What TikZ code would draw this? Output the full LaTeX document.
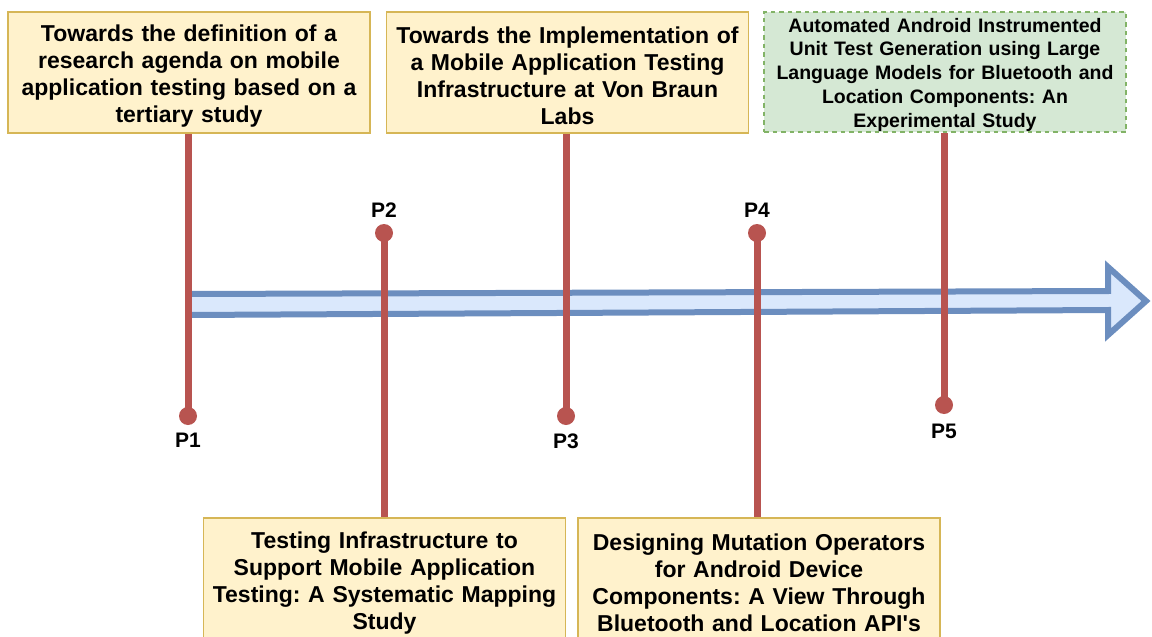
\documentclass[tikz,border=0pt]{standalone}
\usepackage{fontspec}
\setmainfont{Liberation Sans}
\frenchspacing
\definecolor{paperfill}{HTML}{FFF2CC}
\definecolor{paperdraw}{HTML}{D6B656}
\definecolor{draftfill}{HTML}{D5E8D4}
\definecolor{draftdraw}{HTML}{82B366}
\definecolor{stemred}{HTML}{B85450}
\definecolor{timefill}{HTML}{DAE8FC}
\definecolor{timedraw}{HTML}{6C8EBF}
\begin{document}
\begin{tikzpicture}[x=1pt,y=-1pt,
  boxbase/.style={line width=1.5pt, minimum width=362pt, inner sep=0pt,
    text width=356pt, align=center},
  paper/.style={boxbase, draw=paperdraw, fill=paperfill,
    minimum height=121pt,
    execute at begin node={\rule{0pt}{23pt}},
    font=\bfseries\fontsize{23}{27}\selectfont},
  lowpaper/.style={boxbase, draw=paperdraw, fill=paperfill,
    minimum height=126pt,
    execute at begin node={\rule{0pt}{21pt}},
    font=\bfseries\fontsize{23}{27}\selectfont},
  draft/.style={boxbase, draw=draftdraw, fill=draftfill,
    dash pattern=on 4.5pt off 4pt,
    minimum height=120pt,
    execute at begin node={\rule{0pt}{19.5pt}},
    font=\bfseries\fontsize{19.5}{23.8}\selectfont},
  stem/.style={draw=stemred, line width=7pt},
  pin/.style={circle, fill=stemred, minimum size=18pt, inner sep=0pt},
  plabel/.style={font=\bfseries\fontsize{21}{24}\selectfont, inner sep=0pt},
  timeline/.style={draw=timedraw, fill=timefill, line width=6pt, line join=miter}]
\useasboundingbox (0,0) rectangle (1152,637);
\clip (0,0) rectangle (1152,637);

% time axis
\draw[timeline] (188,294) -- (1108,291) -- (1108,267) -- (1146,301)
  -- (1108,335) -- (1108,310) -- (188,315) -- cycle;

% publications
\node[paper] (b1) at (189,72.5) {Towards the definition of a\\research agenda on mobile\\application testing based on a\\tertiary study};
\node[paper] (b3) at (567.5,72.5) {Towards the Implementation of\\a Mobile Application Testing\\Infrastructure at Von Braun\\Labs};
\node[draft] (b5) at (945,72) {Automated Android Instrumented\\Unit Test Generation using Large\\Language Models for Bluetooth and\\Location Components: An\\Experimental Study};
\node[lowpaper] (b2) at (384.5,581) {Testing Infrastructure to\\Support Mobile Application\\Testing: A Systematic Mapping\\Study};
\node[lowpaper] (b4) at (759,581) {Designing Mutation Operators\\for Android Device\\Components: A View Through\\Bluetooth and Location API\textquotesingle s};

% pins on the axis
\node[pin] (d1) at (188,416) {};
\node[pin] (d2) at (384,233) {};
\node[pin] (d3) at (566,416) {};
\node[pin] (d4) at (757,233) {};
\node[pin] (d5) at (944,405) {};

\draw[stem] (b1.south -| d1) -- (d1.center);
\draw[stem] (b3.south -| d3) -- (d3.center);
\draw[stem] (b5.south -| d5) -- (d5.center);
\draw[stem] (d2.center) -- (b2.north -| d2);
\draw[stem] (d4.center) -- (b4.north -| d4);

\node[plabel] (l1) at (188,440) {P1};
\node[plabel] (l2) at (384,210) {P2};
\node[plabel] (l3) at (566,441) {P3};
\node[plabel] (l4) at (757,210) {P4};
\node[plabel] (l5) at (944,431) {P5};
\end{tikzpicture}
\end{document}
